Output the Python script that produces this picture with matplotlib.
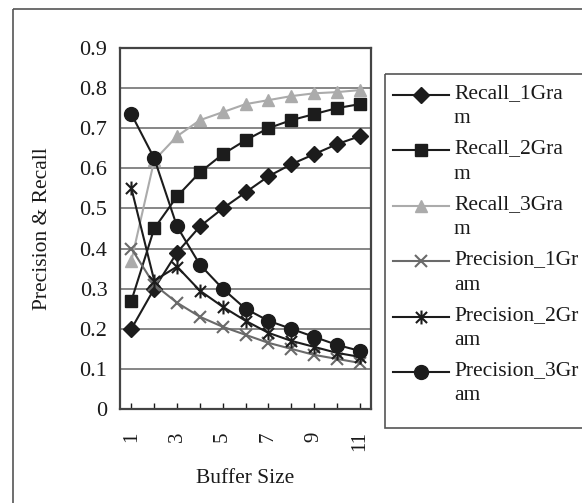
import matplotlib
matplotlib.use("Agg")
import matplotlib.pyplot as plt
from matplotlib.path import Path
from matplotlib.patches import Rectangle
import numpy as np

plt.rcParams['font.family'] = ['Liberation Serif', 'DejaVu Serif']

buffer_size = list(range(1, 12))

recall_1gram = [0.20, 0.30, 0.39, 0.455, 0.50, 0.54, 0.58, 0.61, 0.635, 0.66, 0.68]
recall_2gram = [0.27, 0.45, 0.53, 0.59, 0.635, 0.67, 0.70, 0.72, 0.735, 0.75, 0.76]
recall_3gram = [0.37, 0.62, 0.68, 0.72, 0.74, 0.76, 0.77, 0.78, 0.787, 0.79, 0.795]
precision_1gram = [0.40, 0.31, 0.265, 0.23, 0.205, 0.185, 0.165, 0.15, 0.135, 0.125, 0.115]
precision_2gram = [0.55, 0.32, 0.355, 0.295, 0.255, 0.22, 0.19, 0.17, 0.155, 0.14, 0.13]
precision_3gram = [0.735, 0.625, 0.455, 0.36, 0.30, 0.25, 0.22, 0.20, 0.18, 0.16, 0.145]

legend_labels = ["Recall_1Gra\nm", "Recall_2Gra\nm", "Recall_3Gra\nm",
                 "Precision_1Gr\nam", "Precision_2Gr\nam", "Precision_3Gr\nam"]

# excel style star: vertical bar plus an X
star = Path([(0, -1), (0, 1), (-0.8, -0.8), (0.8, 0.8), (-0.8, 0.8), (0.8, -0.8)],
            [Path.MOVETO, Path.LINETO, Path.MOVETO, Path.LINETO, Path.MOVETO, Path.LINETO])

dark = "#1c1c1c"
styles = [
    dict(color=dark, marker="D", ms=8, mfc=dark, mec=dark),
    dict(color=dark, marker="s", ms=9, mfc=dark, mec=dark),
    dict(color="#ababab", marker="^", ms=9, mfc="#ababab", mec="#ababab"),
    dict(color="#6a6a6a", marker="x", ms=9, mew=1.5),
    dict(color=dark, marker=star, ms=10, mew=1.5),
    dict(color=dark, marker="o", ms=10, mfc=dark, mec=dark),
]
series = [recall_1gram, recall_2gram, recall_3gram,
          precision_1gram, precision_2gram, precision_3gram]

W, H = 582, 503
fig = plt.figure(figsize=(W / 100, H / 100), dpi=100)
ax = fig.add_axes([120 / W, 1 - 409 / H, 251 / W, 361 / H])

for vals, st in zip(series, styles):
    ax.plot(buffer_size, vals, lw=1.5, zorder=3, **st)

ax.set_xlim(0.5, 11.5)
ax.set_ylim(0, 0.9)
ax.set_yticks(np.arange(0, 0.91, 0.1))
ax.set_yticklabels(["0"] + ["%.1f" % v for v in np.arange(0.1, 0.91, 0.1)])
ax.set_xticks(buffer_size)
ax.set_xticklabels([str(b) if b % 2 == 1 else "" for b in buffer_size], rotation=90)
ax.tick_params(axis="y", length=0, pad=9, labelsize=16, colors="#1a1a1a")
ax.tick_params(axis="x", direction="in", length=4, width=1, pad=16, labelsize=15, colors="#1a1a1a")
ax.yaxis.grid(True, color="#7d7d7d", lw=1.3)
ax.set_axisbelow(True)
for s in ax.spines.values():
    s.set_color("#444444")
    s.set_linewidth(1.6)

ax.set_ylabel("Precision & Recall", fontsize=15.5, color="#1a1a1a")
ax.yaxis.set_label_coords(-0.27, 0.5)
ax.set_xlabel("Buffer Size", fontsize=15.5, color="#1a1a1a")
ax.xaxis.set_label_coords(0.5, -0.165)

# overlay in pixel coordinates for the chart border and legend
ov = fig.add_axes([0, 0, 1, 1], zorder=-1)
ov.set_xlim(0, W)
ov.set_ylim(H, 0)
ov.axis("off")
ov.add_patch(Rectangle((13, 9), 620, 620, fill=False, ec="#555555", lw=1.2))

lg = fig.add_axes([0, 0, 1, 1])
lg.set_xlim(0, W)
lg.set_ylim(H, 0)
lg.axis("off")
lg.patch.set_alpha(0)
lg.add_patch(Rectangle((385, 74), 260, 354, fill=False, ec="#555555", lw=1.2))
for i, (lab, st) in enumerate(zip(legend_labels, styles)):
    y = 95 + i * 55.4
    lg.plot([393, 449], [y, y], lw=1.5, color=st["color"])
    extra = {k: v for k, v in st.items() if k != "color"}
    lg.plot([421], [y], color=st["color"], ls="none", **extra)
    lg.text(454, y - 11, lab, fontsize=15.5, color="#1a1a1a", va="top", ha="left",
            linespacing=1.45)

fig.savefig("out.png", dpi=100)
